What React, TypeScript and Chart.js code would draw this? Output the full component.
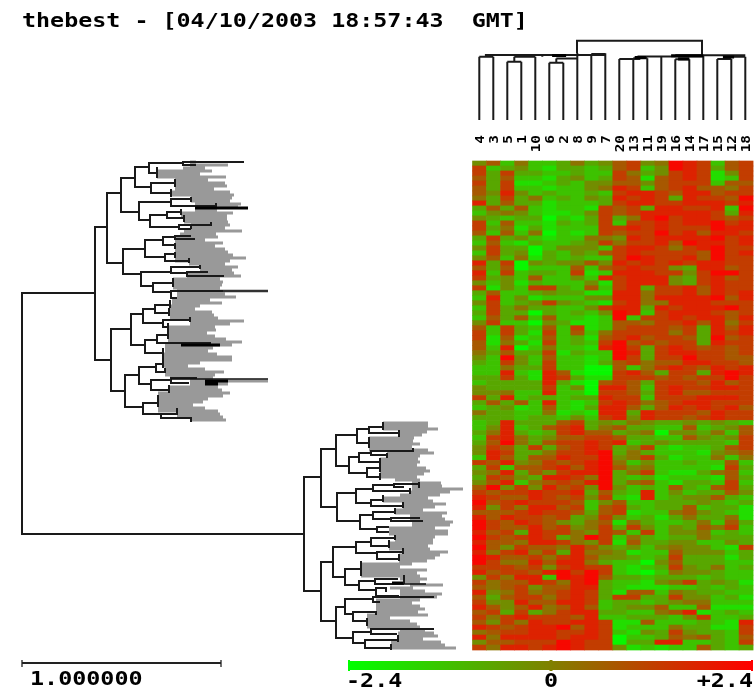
import React, { useEffect, useRef } from "react";
import { Chart, registerables } from "chart.js";

Chart.register(...registerables);

const titleText = "thebest - [04/10/2003 18:57:43  GMT]";
const leafLabels = ["4","3","5","1","10","6","2","8","9","7","20","13","11","19","16","14","17","15","12","18"];
const scaleLabel = "1.000000";
const colorLabels = ["-2.4", "0", "+2.4"];

// Heat values: one digit per column, 0 = -2.4 (green) ... 9 = +2.4 (red)
const heatRows = [
"46252 23534 67459 87267","72342 13323 67249 87367","73733 22322 75347 87147","63622 13423 76167 87127",
"73711 23244 66467 77266","63722 12245 87267 86657","64842 32232 78876 88677","53735 23243 87873 87769",
"83633 12223 78877 88878","36362 12217 67388 77829","24542 11247 67888 88738","43233 02137 35897 88767",
"72622 13237 27787 88978","73513 12227 78787 77988","62625 02127 67797 86887","37342 12255 48788 88978",
"26213 22347 57786 98878","47330 24442 78875 78977","27340 32436 78777 76978","46251 32322 79877 86977",
"83704 34464 87878 78877","63602 22626 78774 38867","82723 32712 88877 47997","73426 22428 78884 37867",
"42413 22241 78884 37877","71427 73262 78377 86877","36223 43311 88577 86878","28241 22244 88588 88968",
"47234 74321 78558 88777","27353 32247 88387 88897","37330 32324 98278 88767","26362 62212 92778 78868",
"47220 43112 66577 86857","62732 62712 67776 73868","72731 72625 77775 73878","71612 62316 78677 63967",
"61531 72327 96767 73877","62802 52218 97378 76767","53633 71322 98378 87767","42942 62212 97377 97766",
"32742 72213 67566 88776","22533 72200 62578 76878","22821 86100 78637 73898","33731 87311 77767 67797",
"23333 83106 76377 76867","43333 72408 86278 77887","44522 82207 76378 66777","73823 32338 77277 78887",
"36362 82127 87567 88777","23412 62138 86368 78786","53322 51218 83877 76877","33323 32427 84877 67877",
"23833 36734 35433 43432","24823 67835 63322 62346","35832 37866 34504 43526","27853 46677 63322 64347",
"36953 67787 82343 33327","47637 36787 34721 22367","48733 57789 35322 21456","28636 68779 45731 22525",
"76845 76789 52422 32262","37266 78689 64522 22173","45836 47889 35721 13562","37643 88759 32312 22163",
"46825 67689 35621 33272","69474 86749 42326 32673","76778 77836 32824 23364","87668 76747 21823 44632",
"96787 77624 62233 34323","84758 86726 73233 62331","66678 77636 71225 64321","86877 67347 42313 53351",
"97687 64356 15322 35263","97668 67457 37424 36572","86738 77547 62724 45232","97678 73597 25323 35333",
"86658 87547 16334 42243","96476 65864 34245 44217","85785 73855 41226 44423","98667 57864 43237 33313",
"97558 68853 22046 33322","77767 47877 21237 43523","86776 89797 21025 44322","47588 29896 33233 32322",
"75668 75893 22145 73431","65674 66883 21112 23232","84575 67873 16625 43322","63677 57873 77337 44231",
"74486 68872 33234 55222","86468 56862 34462 26111","67373 57883 32256 81232","75787 77682 23332 47223",
"64758 77887 11622 23218","87678 89687 12225 33117","56778 87787 21437 43327","85888 87887 02236 56326",
"46677 79877 03388 22327","75887 89877 41212 26323",
];

// Gray leaf bars of the upper cluster, one entry per 3-unit row
const grayTopStart = [190,190,183,157,157,157,175,175,175,175,171,171,191,191,195,200,195,181,181,184,184,191,191,184,180,175,175,175,175,175,175,175,175,175,189,200,200,187,187,173,173,173,173,177,177,177,172,172,170,170,170,170,170,190,190,168,168,168,168,168,168,165,165,165,163,163,163,163,163,165,165,165,170,190,190,169,169,158,158,158,158,158,158,158,177,177,191];
const grayTopEnd = [196,228,205,212,200,226,208,225,227,214,230,234,232,230,241,238,217,233,227,227,228,230,225,242,216,218,205,223,215,225,228,233,246,230,225,238,232,234,241,220,223,222,220,268,225,236,210,222,200,195,212,214,218,244,230,215,216,207,215,226,242,232,213,208,217,232,232,200,188,205,224,215,213,268,228,218,222,230,223,208,203,193,205,218,220,223,226];
// Gray leaf bars of the lower cluster
const grayBottomStart = [383,383,383,399,399,369,369,369,369,369,387,387,380,380,380,380,380,380,380,395,412,412,412,410,400,383,383,403,403,395,395,410,410,412,412,389,389,389,395,395,389,389,389,403,399,399,399,361,361,361,361,361,400,405,410,390,400,400,400,376,376,376,376,376,367,367,367,367,367,400,398,398,398,391,391,391];
const grayBottomEnd = [428,428,438,427,422,414,413,420,412,428,434,420,418,420,417,426,430,424,417,420,441,442,463,450,440,428,433,446,435,423,447,442,445,453,450,435,448,448,435,433,433,428,430,448,440,435,427,412,400,427,417,420,427,420,443,413,425,442,437,420,412,420,425,418,428,390,410,417,420,425,434,438,423,441,445,456];

// Dendrogram nodes: [parent distance, row A, child A distance, row B, child B distance]
const leftNodes = [
[22,293,95,534,304],[95,227,107,360,111],[107,193,121,263,123],[121,178,135,212,139],[135,167,149,187,151],
[149,163,183,173,157],[183,162,244,165,196],[151,183,175,193,171],[139,202,171,220,150],[171,199,191,206,216],
[150,215,167,227,179],[167,212,181,218,184],[179,225,211,229,191],[123,249,145,274,141],[145,240,163,257,165],
[163,237,175,245,175],[175,236,191,239,195],[165,254,175,261,189],[141,272,171,286,153],[171,267,200,273,187],
[187,272,208,276,224],[153,283,173,292,171],[171,291,223,298,177],[111,329,131,391,125],[131,314,143,345,145],
[143,309,155,323,163],[155,305,170,313,169],[163,320,190,327,168],[145,340,157,353,163],[157,335,168,343,211],
[125,375,139,407,143],[139,367,156,384,151],[156,364,163,372,165],[151,380,171,390,169],[171,378,197,383,189],
[143,403,158,414,161],[161,414,177,418,191],
[304,477,321,591,321],[321,449,336,507,337],[336,435,357,466,349],[357,429,369,443,369],[369,427,383,433,399],
[349,457,359,473,367],[359,453,371,462,380],[371,451,413,455,387],[367,468,380,477,380],[337,493,356,521,360],
[356,489,373,503,371],[373,485,394,491,410],[394,484,419,487,404],[371,500,383,506,403],[360,515,373,529,377],
[373,512,395,519,391],[391,518,420,521,423],[377,527,389,532,389],[321,562,333,621,336],[333,547,356,577,345],
[356,542,371,553,377],[371,538,395,546,389],[377,552,403,559,399],[345,569,361,585,359],[359,581,375,590,376],
[375,579,398,584,404],[376,588,386,596,399],[336,607,345,638,353],[345,599,373,614,353],[373,597,434,602,380],
[353,612,376,621,367],[353,632,371,643,365],[371,629,434,634,397],[365,640,398,648,391],
];
// Collapsed leaf bundles: [distance, row from, row to]
const leftCaps = [
[157,167,178],[175,179,187],[171,189,197],[191,197,202],[216,203,208],[181,209,215],[184,215,222],[211,222,226],
[191,225,229],[175,243,249],[175,252,258],[189,258,263],[200,265,269],[173,278,287],[163,358,368],[165,368,373],
[170,300,308],[169,308,316],[190,317,322],[168,323,332],[168,331,339],[163,348,358],[169,385,393],[158,395,407],
[177,408,415],[191,417,422],
[383,422,430],[399,430,437],[369,437,448],[413,448,452],[387,453,458],[380,458,467],[380,467,472],[380,473,480],
[383,495,502],[403,502,508],[395,508,514],[419,482,488],[410,488,494],[389,540,548],[395,535,540],[403,548,554],
[399,554,561],[361,561,576],[386,587,592],[404,575,584],[376,611,615],[367,618,626],[398,635,642],[391,644,650],
];
// Dark outlier leaves: [from, to, row]
const thickLeaves = [[195,248,208],[181,220,345],[205,228,381],[205,218,384],[392,403,583]];
const thinLeaves = [[171,268,379],[223,268,291],[403,426,584]];

// Column dendrogram: height of each leaf, then bar pieces [column from, column to, height]
const colLeafTop = [56.7,56.7,61.7,61.7,56.7,62.7,62.7,59,54.3,53.3,59,58.3,58.3,56.7,59.3,59.3,56,59,59,56.7];
const colSegments = [[0,1,56.7],[0.4,9,55],[2.5,4,56.7],[2,3,61.7],[5,6,62.7],[5.5,7,58.5],[8,9,54],[10,11.5,59],[11,12,58.3],[11.3,16,56.5],[14,15,59.3],[17,18,59],[17.5,19,56.7],[14,19,55.3]];
const colThick = [[5.2,6.2,55.5],[11.1,11.9,57.5],[13.7,16,55.7],[14.2,15,59],[17.4,18.2,57]];
const colStems = [[2.5,56.7,61.7],[5.5,58.5,62.7],[7,53,59],[4.5,55,56.7]];
const rootTop = [577, 702, 40.7, 53, 55];

const colorBarStops = ["#00ff00", "#808000", "#ff0000"];

function segs(list: number[][]) {
  const out: any[] = [];
  list.forEach(([x1, x2, y]) => out.push({ x: x1, y }, { x: x2, y }, { x: x2, y: null }));
  return out;
}

const lineDs = (data: any[], color: any, width: number, order: number) => ({
  type: "line", data, borderColor: color, borderWidth: width, pointRadius: 0, tension: 0,
  spanGaps: false, fill: false, order, borderCapStyle: "butt", borderJoinStyle: "miter",
});

const grayData = (starts: number[], ends: number[], first: number) => {
  const out: any[] = [];
  starts.forEach((s, i) => {
    const y = first + 3 * i + 1;
    out.push({ x: s, y }, { x: ends[i], y }, { x: ends[i], y: null });
  });
  return out;
};

export default function App() {
  const ref = useRef<HTMLCanvasElement>(null);
  useEffect(() => {
    const colW = 14.03, heatLeft = 472.5, heatTop = 161, rowH = 4.99;
    const cells: any[] = [], cellColors: string[] = [];
    heatRows.forEach((raw, r) => {
      raw.replace(/ /g, "").split("").forEach((d, c) => {
        cells.push({ x: heatLeft + colW * (c + 0.5), y: [heatTop + r * rowH, heatTop + (r + 1) * rowH] });
        const t = 0.5 + (Number(d) / 9 - 0.5) * 0.94;
        cellColors.push(`rgb(${Math.round(255 * t)},${Math.round(255 * (1 - t))},0)`);
      });
    });

    const tree: any[] = [];
    leftNodes.forEach(([p, ya, xa, yb, xb]) => {
      tree.push({ x: xa, y: ya }, { x: p, y: ya }, { x: p, y: yb }, { x: xb, y: yb }, { x: xb, y: null });
    });
    leftCaps.forEach(([x, a, b]) => tree.push({ x, y: a }, { x, y: b }, { x, y: null }));

    const leafX = (c: number) => 479.3 + 14 * c;
    const colTree: any[] = [];
    colLeafTop.forEach((t, c) => colTree.push({ x: leafX(c), y: 120 }, { x: leafX(c), y: t }, { x: leafX(c), y: null }));
    colSegments.forEach(([a, b, h]) => colTree.push({ x: leafX(a), y: h }, { x: leafX(b), y: h }, { x: leafX(b), y: null }));
    colStems.forEach(([c, a, b]) => colTree.push({ x: leafX(c), y: a }, { x: leafX(c), y: b }, { x: leafX(c), y: null }));
    const [r1, r2, rt, rl, rr] = rootTop;
    colTree.push({ x: r1, y: rl }, { x: r1, y: rt }, { x: r2, y: rt }, { x: r2, y: rr }, { x: r2, y: null });
    const colThickData = segs(colThick.map(([a, b, h]) => [leafX(a), leafX(b), h]));

    const barLeft = 349, barRight = 752, barMid = 551;

    const textPlugin = {
      id: "texts",
      afterDraw(chart: any) {
        const { ctx, scales } = chart;
        const X = (v: number) => scales.x.getPixelForValue(v);
        const Y = (v: number) => scales.y.getPixelForValue(v);
        const put = (s: string, x: number, y: number, size: number, sx: number, rot = 0, align: CanvasTextAlign = "left") => {
          ctx.save();
          ctx.translate(X(x), Y(y));
          if (rot) ctx.rotate(rot);
          ctx.scale(sx, 1);
          ctx.font = `bold ${size}px "DejaVu Sans Mono"`;
          ctx.fillStyle = "#000";
          ctx.textAlign = align;
          ctx.textBaseline = "alphabetic";
          ctx.fillText(s, 0, 0);
          ctx.restore();
        };
        put(titleText, 22, 27, 20, 1.167);
        put(scaleLabel, 30, 685, 19, 1.23);
        put(colorLabels[0], 346, 687, 19, 1.23);
        put(colorLabels[1], 551, 687, 19, 1.23, 0, "center");
        put(colorLabels[2], 753, 687, 19, 1.23, 0, "right");
        leafLabels.forEach((l, c) => put(l, leafX(c) + 4.5, 135, 12, 1.2, -Math.PI / 2, "right"));
      },
    };

    const chart = new Chart(ref.current as any, {
      type: "bar",
      data: {
        datasets: [
          { type: "bar", data: cells, backgroundColor: cellColors, barThickness: colW, grouped: false, borderWidth: 0, order: 9 },
          lineDs(grayData(grayTopStart, grayTopEnd, 161), "#999999", 3, 8),
          lineDs(grayData(grayBottomStart, grayBottomEnd, 422), "#999999", 3, 8),
          lineDs(tree, "#1a1a1a", 2, 5),
          lineDs(segs(thinLeaves), "#111111", 1.6, 4),
          lineDs(segs(thickLeaves), "#000000", 3, 3),
          lineDs(colTree, "#1a1a1a", 2, 5),
          lineDs(colThickData, "#000000", 3, 3),
          lineDs(segs([[22, 221, 663]]), "#222222", 2, 2),
          lineDs([{ x: 22, y: 660 }, { x: 22, y: 667 }, { x: 22, y: null }, { x: 221, y: 660 }, { x: 221, y: 667 }], "#222222", 1.3, 2),
          lineDs(segs([[barLeft, barRight, 665.5]]), (c: any) => {
            const sc = c.chart.scales.x;
            const a = sc ? sc.getPixelForValue(barLeft) : NaN;
            const b = sc ? sc.getPixelForValue(barRight) : NaN;
            if (!isFinite(a) || !isFinite(b)) return colorBarStops[1];
            const g = c.chart.ctx.createLinearGradient(a, 0, b, 0);
            colorBarStops.forEach((s, i) => g.addColorStop(i / 2, s));
            return g;
          }, 9, 2),
          lineDs([{ x: barLeft, y: 660 }, { x: barLeft, y: 671 }], colorBarStops[0], 2, 1),
          lineDs([{ x: barMid, y: 660 }, { x: barMid, y: 671 }], colorBarStops[1], 3, 1),
          lineDs([{ x: barRight, y: 660 }, { x: barRight, y: 671 }], colorBarStops[2], 2, 1),
        ] as any,
      },
      options: {
        animation: false,
        responsive: false,
        events: [],
        layout: { padding: 0, autoPadding: false },
        plugins: { legend: { display: false }, title: { display: false }, tooltip: { enabled: false } },
        scales: {
          x: { type: "linear", min: 0, max: 754, display: false, offset: false },
          y: { type: "linear", min: 0, max: 694, reverse: true, display: false },
        },
      } as any,
      plugins: [textPlugin],
    });
    chart.update();
    return () => chart.destroy();
  }, []);
  return (
    <div style={{ position: "absolute", left: 0, top: 0, width: 754, height: 694, background: "#fff" }}>
      <canvas ref={ref} width={754} height={694} style={{ display: "block" }} />
    </div>
  );
}
